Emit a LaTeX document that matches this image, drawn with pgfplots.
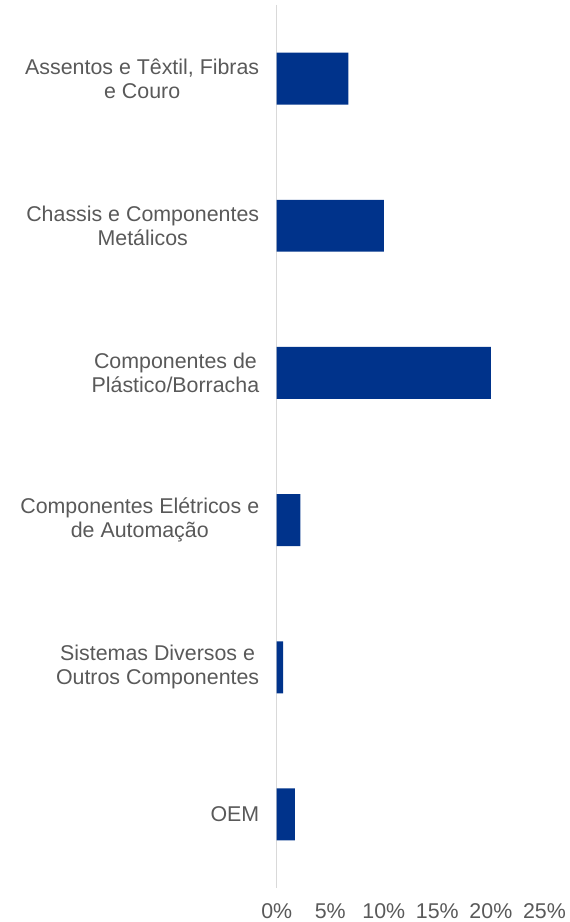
\documentclass[border=0pt]{standalone}
\usepackage{pgfplots}
\pgfplotsset{compat=1.18}
\usepackage{fontspec}
\setmainfont{Liberation Sans}
\definecolor{barblue}{RGB}{0,51,139}
\definecolor{txtgray}{RGB}{89,89,89}
\definecolor{axgray}{RGB}{217,217,217}
\begin{document}
\begin{tikzpicture}
\begin{axis}[
  scale only axis,
  width=268bp, height=884bp,
  xbar,
  xmin=0, xmax=25,
  ymin=-0.5, ymax=5.5,
  y dir=reverse,
  bar width=0.353,
  axis lines*=left,
  x axis line style={draw=none},
  y axis line style={draw=axgray, line width=1.2bp},
  major tick length=0pt,
  xtick={0,5,10,15,20,25},
  xticklabel={\pgfmathprintnumber{\tick}\%},
  /pgf/number format/assume math mode=true,
  ytick={0,1,2,3,4,5},
  yticklabels={{Assentos e Têxtil, Fibras\\e Couro},{Chassis e Componentes\\Metálicos},{Componentes de\\Plástico/Borracha},{Componentes Elétricos e\\de Automação},{Sistemas Diversos e\\Outros Componentes},{OEM}},
  yticklabel style={align=center, font=\fontsize{21.4bp}{24bp}\selectfont, text=txtgray, xshift=-14bp},
  xticklabel style={font=\fontsize{21.4bp}{24bp}\selectfont, text=txtgray, yshift=-12bp},
  clip=false,
]
\addplot[draw=none, fill=barblue] coordinates {(6.7,0) (10.0,1) (20.0,2) (2.2,3) (0.6,4) (1.7,5)};
\end{axis}
\path ([xshift=-277bp,yshift=-33bp]current axis.south west) rectangle ([xshift=24bp,yshift=5bp]current axis.north east);
\end{tikzpicture}
\end{document}
